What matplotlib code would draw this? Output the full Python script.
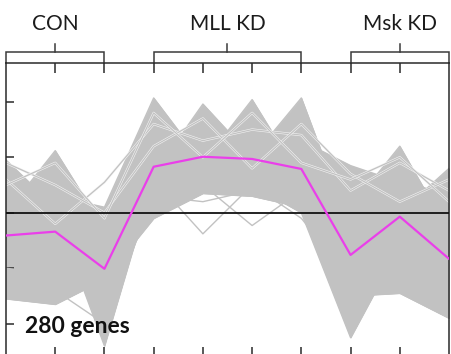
import matplotlib
matplotlib.use("Agg")
import matplotlib.pyplot as plt
import matplotlib.patheffects as pe
from matplotlib.transforms import blended_transform_factory

# Sample positions and condition groups
samples = list(range(10))
groups = ["CON", "MLL KD", "Msk KD"]
group_first = [0, 3, 7]
group_last = [2, 6, 9]
gene_count_label = "280 genes"

# Cluster mean (z-score) per sample
mean_profile = [-0.41, -0.34, -1.01, 0.83, 1.01, 0.97, 0.79, -0.76, -0.07, -0.83]

# Representative gene profiles spanning the dense part of the cluster
band_a = [0.95, 0.10, -0.50, 1.40, 1.20, 1.30, 1.20, 0.00, 0.50, 0.20]
band_b = [0.00, 1.12, -0.30, 1.10, 1.30, 1.20, 1.30, 0.30, 0.60, 0.30]
band_c = [0.30, 0.30, 0.10, 2.07, 0.90, 2.04, 0.60, 0.20, 0.50, 0.10]
band_d = [0.40, 0.40, -0.20, 0.70, 1.96, 1.00, 2.07, -0.30, 0.30, 0.00]
band_e = [0.20, 0.50, -0.40, 1.00, 1.20, 1.10, 1.30, 0.85, 0.55, 0.20]
band_f = [0.10, 0.20, -0.60, 0.90, 1.10, 1.00, 1.00, 0.10, 1.20, -0.35]
band_g = [-0.20, 0.00, -0.70, 0.80, 1.00, 0.90, 0.90, -0.20, 0.00, 0.80]
band_h = [-1.55, -1.65, -1.20, -0.10, 0.35, 0.30, 0.10, -1.50, -1.45, -1.90]
band_i = [-0.90, 0.00, -2.40, 0.60, 0.60, 0.50, 0.00, -2.25, -0.60, -1.30]

# Individual gene profiles drawn as single traces
line_1 = [0.60, -0.20, 0.55, 1.60, 1.30, 1.50, 1.40, 0.40, 0.90, 0.40]
line_2 = [-1.00, -1.10, -1.50, 0.60, -0.38, 0.50, -0.10, -1.20, -0.80, -1.50]
line_3 = [-0.80, -0.60, -1.80, 0.20, 0.50, -0.23, 0.40, -1.00, -0.50, -1.00]
line_4 = [0.90, 0.50, 0.00, 1.20, 1.70, 0.80, 1.60, 0.70, 0.20, 0.60]
line_5 = [0.50, 0.90, -0.10, 1.80, 1.00, 1.80, 0.90, 0.60, 1.00, 0.20]
line_6 = [-1.20, -1.40, -2.00, 0.30, 0.20, 0.40, 0.20, -1.60, -1.00, -1.60]

band_profiles = [band_a, band_b, band_c, band_d, band_e, band_f, band_g, band_h, band_i]
edged_profiles = [line_1, line_4, line_5]
plain_profiles = [line_2, line_3, line_6]

GRAY = "#c2c2c2"
MAGENTA = "#ea3fea"
DARK = "#2a2a2a"
W, H, DPI = 452, 354, 100

plt.rcParams["font.family"] = ["Lato", "DejaVu Sans"]

fig = plt.figure(figsize=(W / DPI, H / DPI), dpi=DPI)
ax_left, ax_right = 6 / W, 449 / W
ax_top, ax_bottom = 1 - 63 / H, 1 - 357 / H
ax = fig.add_axes([ax_left, ax_bottom, ax_right - ax_left, ax_top - ax_bottom])

# Dense bundle of gene traces
for prof in band_profiles:
    ax.fill_between(samples, prof, mean_profile, color=GRAY, lw=0.6,
                    edgecolor=GRAY, interpolate=True, zorder=1)
    ax.plot(samples, prof, color=GRAY, lw=1.0, zorder=1)

halo = [pe.Stroke(linewidth=1.7, foreground="#f4f4f4"), pe.Normal()]
for prof in edged_profiles:
    ax.plot(samples, prof, color=GRAY, lw=0.9, zorder=2, path_effects=halo)
for prof in plain_profiles:
    ax.plot(samples, prof, color=GRAY, lw=1.0, zorder=2)

ax.axhline(0, color="#111111", lw=1.3, zorder=3)
ax.plot(samples, mean_profile, color=MAGENTA, lw=1.6, zorder=4)

ax.set_xlim(0, 9)
ax.set_ylim(-2.6, 2.7)
ax.set_xticks(samples[1:-1])
ax.set_yticks([-2, -1, 0, 1, 2])
ax.tick_params(axis="x", which="both", direction="in", length=7.2, width=1.1,
               color=DARK, top=True, bottom=True, labelbottom=False, labeltop=False)
ax.tick_params(axis="y", which="both", direction="in", length=6, width=1.1,
               color=DARK, left=True, right=False, labelleft=False)
for sp in ax.spines.values():
    sp.set_color(DARK)
    sp.set_linewidth(1.1)

# Group brackets above the plot
tr = blended_transform_factory(ax.transData, fig.transFigure)
y_br = 1 - 52 / H
y_sp = ax_top
y_tip = 1 - 44 / H
y_txt = 1 - 30 / H
for name, a, b in zip(groups, group_first, group_last):
    ax.plot([a, a, b, b], [y_sp, y_br, y_br, y_sp], transform=tr, color="#3a3a3a",
            lw=1.1, clip_on=False, solid_joinstyle="miter")
    c = (a + b) / 2
    ax.plot([c, c], [y_br, y_tip], transform=tr, color="#3a3a3a", lw=1.1, clip_on=False)
    ax.text(c, y_txt, name, transform=tr, ha="center", va="baseline",
            fontsize=15, color="#1c1c1c")

fig.text(25 / W, 1 - 333 / H, gene_count_label, ha="left", va="baseline",
         fontsize=16.5, fontweight="bold", color="#111111")

fig.savefig("out.png", dpi=DPI, facecolor="white")
